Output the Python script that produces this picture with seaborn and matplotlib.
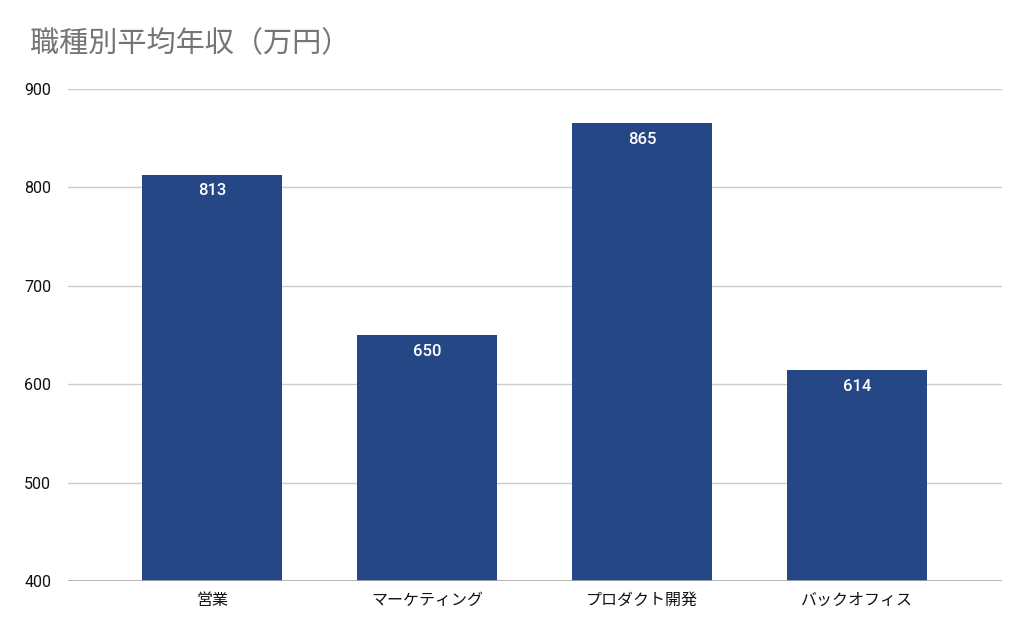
import matplotlib
matplotlib.use("Agg")
import matplotlib.pyplot as plt
import seaborn as sns
import pandas as pd

categories = ["営業", "マーケティング", "プロダクト開発", "バックオフィス"]
values = [813, 650, 865, 614]
yticks = [400, 500, 600, 700, 800, 900]
title = "職種別平均年収（万円）"

sns.set_theme(style="white")
plt.rcParams['font.family'] = ['Noto Sans CJK JP', 'DejaVu Sans']

df = pd.DataFrame({"職種": categories, "年収": values})

fig = plt.figure(figsize=(10.24, 6.27), dpi=100)
ax = fig.add_axes([0.0664, 0.0734, 0.9121, 0.7847])

sns.barplot(data=df, x="職種", y="年収", color="#264785", saturation=1,
            width=0.65, ax=ax, zorder=3, linewidth=0)

ax.set_ylim(400, 900)
ax.set_xlim(-0.67, 3.674)
ax.set_yticks(yticks)
ax.set_yticklabels([str(t) for t in yticks], fontsize=11.5, color="#111111",
                   family=['Roboto', 'DejaVu Sans'])
ax.tick_params(axis='x', labelsize=11.5, colors="#111111", length=0, pad=8)
ax.tick_params(axis='y', length=0, pad=12)
ax.yaxis.grid(True, color="#cccccc", linewidth=1, zorder=0)
ax.xaxis.grid(False)
for s in ax.spines.values():
    s.set_visible(False)
ax.axhline(400, color="#aaaaaa", linewidth=1.2, zorder=4)
ax.set_xlabel("")
ax.set_ylabel("")

for container in ax.containers:
    ax.bar_label(container, labels=[str(v) for v in values], label_type="edge",
                 padding=-17, color="white", fontsize=12, fontweight="medium",
                 family=['Roboto', 'DejaVu Sans'], zorder=5)

fig.text(0.029, 0.93, title, fontsize=21, color="#757575", ha="left", va="center")

fig.savefig("out.png", dpi=100, facecolor="white")
